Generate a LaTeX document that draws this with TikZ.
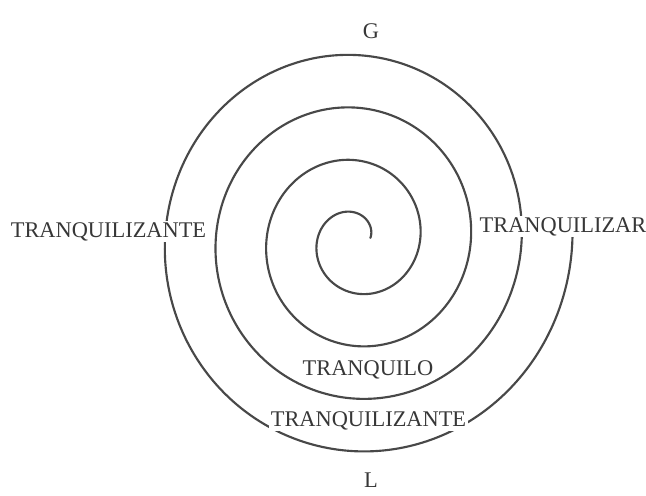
\documentclass[tikz,border=0pt]{standalone}
\usepackage{fontspec}
\setmainfont{Liberation Serif}
\usepackage{tikz}
\definecolor{InkColor}{RGB}{72, 72, 72}
\definecolor{TextColor}{RGB}{55, 55, 55}
\tikzset{
  spiralline/.style={draw=InkColor, line width=1.6pt, line cap=round},
  word/.style={fill=white, text=TextColor, inner sep=1pt, anchor=base,
    font=\fontsize{16.8}{20}\selectfont}
}
\begin{document}
\begin{tikzpicture}[x=0.75pt, y=0.75pt]
  \useasboundingbox (-356,-256) rectangle (290,240);
  % Spiral
  \draw[spiralline] plot[domain=8:1441, samples=700, smooth, variable=\t]
    ({0.965*0.1461*(\t+95)*cos(\t)}, {0.1461*(\t+96)*sin(\t)});
  % Labels
  \node[word] (g) at (15,201) {G};
  \node[word] (l) at (15,-247) {L};
  \node[word] (outerleft) at (-247.5,2.7) {TRANQUILIZANTE};
  \node[word] (right) at (207,8) {TRANQUILIZAR};
  \node[word] (inner) at (12,-135) {TRANQUILO};
  \node[word] (outerbottom) at (12.5,-186) {TRANQUILIZANTE};
\end{tikzpicture}
\end{document}
